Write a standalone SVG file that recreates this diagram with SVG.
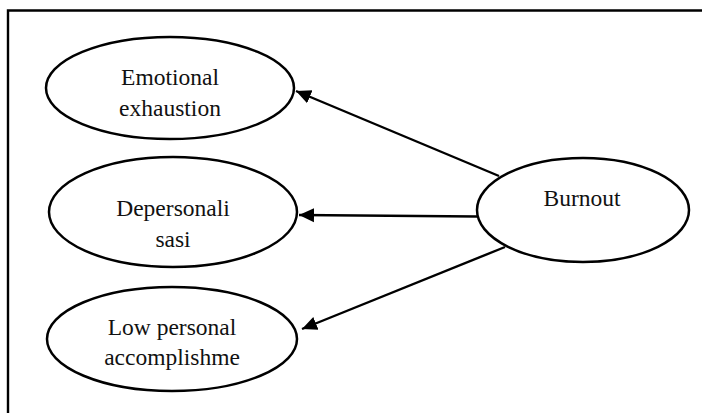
<svg xmlns="http://www.w3.org/2000/svg" width="702" height="413" viewBox="0 0 702 413">
<style>
.frame{fill:none;stroke:#000;stroke-width:2.4}
.node ellipse{fill:#fff;stroke:#000;stroke-width:2.5}
.node text{font-family:"Liberation Serif","Times New Roman",serif;font-size:23.5px;fill:#111;text-anchor:middle}
.conn line{stroke:#000;stroke-width:2.4}
</style>
<defs>
<marker id="arr" markerUnits="userSpaceOnUse" markerWidth="16" markerHeight="16" viewBox="0 0 16 16" refX="15" refY="8" orient="auto">
<path d="M0,1 L15,8 L0,15 Z" fill="#000"/>
</marker>
</defs>
<rect width="702" height="413" fill="#fff"/>
<path class="frame" d="M8,413 V10.5 H702"/>
<g id="node-emotional" class="node">
<ellipse cx="170" cy="88" rx="124" ry="51"/>
<text x="170" y="85">Emotional</text>
<text x="170" y="116">exhaustion</text>
</g>
<g id="node-depersonalisasi" class="node">
<ellipse cx="173" cy="212" rx="124" ry="55"/>
<text x="173" y="216">Depersonali</text>
<text x="173" y="247">sasi</text>
</g>
<g id="node-low-personal" class="node">
<ellipse cx="172" cy="339" rx="125" ry="52"/>
<text x="172" y="335">Low personal</text>
<text x="172" y="365">accomplishme</text>
</g>
<g id="node-burnout" class="node">
<ellipse cx="583" cy="210" rx="106" ry="52"/>
<text x="582" y="206">Burnout</text>
</g>
<g id="connectors" class="conn">
<line x1="499" y1="176" x2="296" y2="91" marker-end="url(#arr)"/>
<line x1="477" y1="216.5" x2="299" y2="215" marker-end="url(#arr)"/>
<line x1="505" y1="247" x2="302" y2="329" marker-end="url(#arr)"/>
</g>
</svg>
